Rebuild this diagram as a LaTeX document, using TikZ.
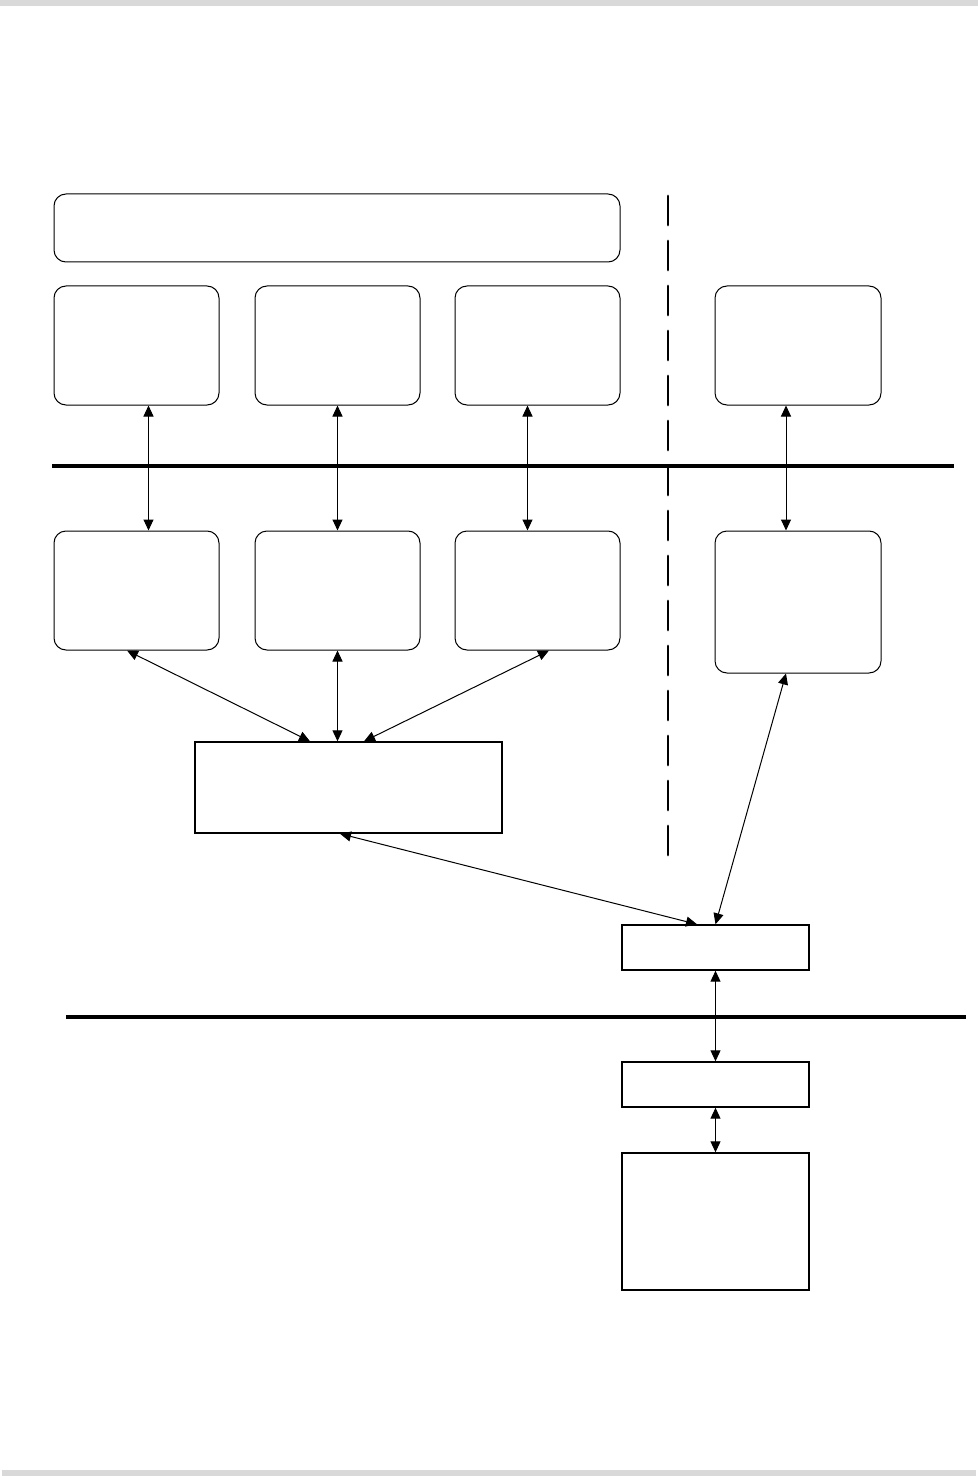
\documentclass[tikz,border=0pt]{standalone}
\usetikzlibrary{arrows.meta}

\begin{document}
\begin{tikzpicture}[x=0.5pt, y=-0.5pt,
    rbox/.style={draw, line width=0.5pt, rounded corners=6pt, minimum width=82.5pt, minimum height=59.5pt, inner sep=0pt},
    sbox/.style={draw, line width=0.7pt, minimum width=93.5pt, minimum height=22.5pt, inner sep=0pt},
    link/.style={line width=0.5pt, {Triangle[length=5.5pt,width=5pt]}-{Triangle[length=5.5pt,width=5pt]}}]
    \useasboundingbox (0,0) rectangle (978,1476);

    % gray page bars
    \fill[black!15] (0,0) rectangle (978,6);
    \fill[black!15] (2,1470) rectangle (976,1476);

    % upper row
    \node[rbox, minimum width=283pt, minimum height=34pt] (top) at (337,228) {};
    \node[rbox] (a1) at (136.5,345.5) {};
    \node[rbox] (b1) at (337.5,345.5) {};
    \node[rbox] (c1) at (537.5,345.5) {};
    \node[rbox, minimum width=83pt] (d1) at (798,345.5) {};

    % lower row
    \node[rbox] (a2) at (136.5,590.5) {};
    \node[rbox] (b2) at (337.5,590.5) {};
    \node[rbox] (c2) at (537.5,590.5) {};
    \node[rbox, minimum width=83pt, minimum height=71pt] (d2) at (798,602) {};

    \node[sbox, minimum width=153.5pt, minimum height=45.5pt] (hub) at (348.5,787.5) {};
    \node[sbox] (e) at (715.5,947.5) {};
    \node[sbox] (f) at (715.5,1084.5) {};
    \node[sbox, minimum height=68.5pt] (g) at (715.5,1221.5) {};

    % separators
    \draw[line width=2pt] (52,466) -- (954,466);
    \draw[line width=2pt] (66,1017) -- (966,1017);
    \draw[line width=1.4pt, dash pattern=on 14.5pt off 8pt, line cap=round] (668,196) -- (668,858);

    % connectors
    \foreach \col/\dx in {a/6pt, b/0pt, c/-5pt, d/-6pt}
        \draw[link] ([xshift=\dx]\col1.south) -- ([xshift=\dx]\col2.north);

    \draw[link] ([xshift=-4.75pt]a2.south) -- ([xshift=-19.25pt]hub.north);
    \draw[link] (b2.south) -- ([xshift=-5.5pt]hub.north);
    \draw[link] ([xshift=5.75pt]c2.south) -- ([xshift=7.75pt]hub.north);
    \draw[link] ([xshift=-4.25pt]hub.south) -- ([xshift=-9.25pt]e.north);
    \draw[link] ([xshift=-6pt]d2.south) -- (e.north);
    \draw[link] (e.south) -- (f.north);
    \draw[link] (f.south) -- (g.north);
\end{tikzpicture}
\end{document}
